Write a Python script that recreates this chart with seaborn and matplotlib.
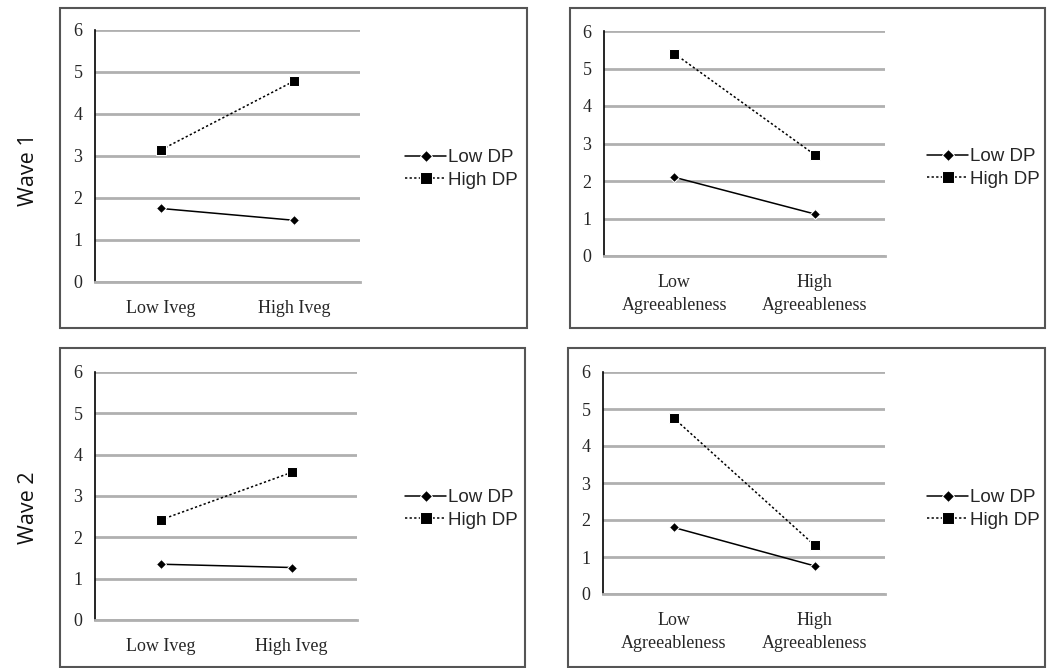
#!/usr/bin/env python3
"""Interaction plots: DP x Iveg / DP x Agreeableness, waves 1 and 2."""

import matplotlib

matplotlib.use("Agg")

import matplotlib.pyplot as plt
import numpy as np
import pandas as pd
import seaborn as sns
from matplotlib.patches import Rectangle

GROUPS = ["Low DP", "High DP"]
IVEG_LEVELS = ["Low Iveg", "High Iveg"]
AGREE_LEVELS = ["Low\nAgreeableness", "High\nAgreeableness"]
WAVES = ["Wave 1", "Wave 2"]

# values
wave1_iveg_low = [1.75, 1.47]
wave1_iveg_high = [3.15, 4.78]
wave1_agree_low = [2.10, 1.12]
wave1_agree_high = [5.40, 2.70]
wave2_iveg_low = [1.35, 1.27]
wave2_iveg_high = [2.42, 3.57]
wave2_agree_low = [1.80, 0.76]
wave2_agree_high = [4.76, 1.32]

Y_TICKS = [0, 1, 2, 3, 4, 5, 6]


def make_frame(levels, low, high):
    rows = []
    for group, vals in zip(GROUPS, [low, high]):
        for level, v in zip(levels, vals):
            rows.append({"level": level, "score": v, "group": group})
    return pd.DataFrame(rows)


def draw_panel(fig, rect, df, legend_xy):
    ax = fig.add_axes(rect)
    sns.lineplot(
        data=df, x="level", y="score", style="group", style_order=GROUPS,
        markers={"Low DP": "D", "High DP": "s"},
        dashes={"Low DP": "", "High DP": (1.5, 1.5)},
        color="black", linewidth=1.1, ax=ax, sort=False,
    )
    for line in ax.lines:
        if line.get_marker() == "D":
            line.set_markersize(5.5)
        elif line.get_marker() == "s":
            line.set_markersize(7.5)
    ax.set_xlim(-0.5, 1.5)
    ax.set_ylim(0, 6)
    ax.set_yticks(Y_TICKS)
    ax.yaxis.grid(True, color="#b0b0b0", linewidth=2)
    ax.xaxis.grid(False)
    ax.set_axisbelow(True)
    ax.set_xlabel("")
    ax.set_ylabel("")
    for side in ["top", "right"]:
        ax.spines[side].set_visible(False)
    ax.spines["left"].set_color("black")
    ax.spines["left"].set_linewidth(1.2)
    ax.spines["bottom"].set_color("#b0b0b0")
    ax.spines["bottom"].set_linewidth(2)
    ax.set_xticks([-0.5, 0.5, 1.5], minor=True)
    ax.tick_params(axis="x", which="major", length=0, pad=13)
    ax.tick_params(axis="x", which="minor", length=4, color="#b0b0b0")
    ax.tick_params(axis="y", length=4, color="black", pad=5)
    for lab in ax.get_xticklabels() + ax.get_yticklabels():
        lab.set_fontfamily("Liberation Serif")
        lab.set_fontsize(13)
    for lab in ax.get_xticklabels():
        lab.set_linespacing(1.45)
    ax.legend(
        loc="center left", bbox_to_anchor=legend_xy, bbox_transform=fig.transFigure,
        frameon=False, prop={"family": "Liberation Sans", "size": 13.5},
        handlelength=2.2, handletextpad=0.1, labelspacing=0.3,
        borderaxespad=0, borderpad=0, markerscale=1.2,
    )
    return ax


def main():
    sns.set_theme(style="white")
    W, H = 1047, 668
    fig = plt.figure(figsize=(W / 100, H / 100), dpi=100)

    def fx(px):
        return px / W

    def fy(py):
        return 1 - py / H

    # panel boxes
    boxes = [(60, 8, 527, 328), (570, 8, 1045, 328), (60, 348, 525, 667), (568, 348, 1045, 667)]
    for x0, y0, x1, y1 in boxes:
        fig.add_artist(Rectangle((fx(x0), fy(y1)), fx(x1 - x0), (y1 - y0) / H,
                                 transform=fig.transFigure, fill=False,
                                 edgecolor="#555555", linewidth=1.5))

    panels = [
        ((fx(95), fy(282), fx(360 - 95), (282 - 30) / H),
         make_frame(IVEG_LEVELS, wave1_iveg_low, wave1_iveg_high), (fx(405), fy(169))),
        ((fx(604), fy(256), fx(885 - 604), (256 - 31) / H),
         make_frame(AGREE_LEVELS, wave1_agree_low, wave1_agree_high), (fx(927), fy(168))),
        ((fx(95), fy(620), fx(357 - 95), (620 - 372) / H),
         make_frame(IVEG_LEVELS, wave2_iveg_low, wave2_iveg_high), (fx(405), fy(509))),
        ((fx(603), fy(594), fx(885 - 603), (594 - 372) / H),
         make_frame(AGREE_LEVELS, wave2_agree_low, wave2_agree_high), (fx(927), fy(509))),
    ]
    for rect, df, leg in panels:
        draw_panel(fig, rect, df, leg)

    for wave, ypx in zip(WAVES, [170, 508]):
        fig.text(fx(28), fy(ypx), wave, rotation=90, ha="center", va="center",
                 fontsize=15.5, family="Open Sans", color="#111111")

    fig.savefig("out.png", dpi=100)
    plt.close(fig)


if __name__ == "__main__":
    main()
